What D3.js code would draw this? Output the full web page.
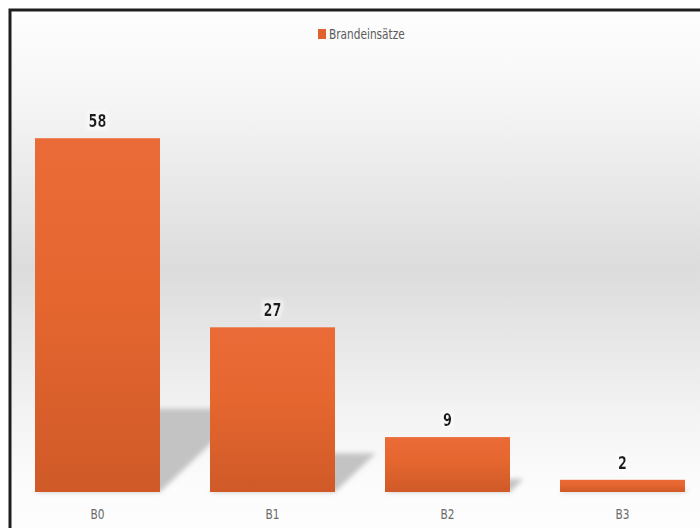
<!DOCTYPE html>
<html>
<head>
<meta charset="utf-8">
<script src="https://cdn.jsdelivr.net/npm/d3@7"></script>
<style>
  html, body { margin: 0; padding: 0; background: #ffffff; }
  svg { display: block; }
</style>
</head>
<body>
<svg id="chart" width="700" height="528"></svg>
<script>
// Fire brigade call-outs by alarm level
const categories = ["B0", "B1", "B2", "B3"];
const values = [58, 27, 9, 2];
const seriesName = "Brandeinsätze";

const W = 700, H = 528;
const baseY = 492;
const labelFont = "'DejaVu Sans Condensed', 'DejaVu Sans', sans-serif";
const squeeze = 0.84; // horizontal compression for a narrow label face

const svg = d3.select("#chart");
const defs = svg.append("defs");

// Backdrop gradient: light at top and bottom, grey through the middle
const bg = defs.append("linearGradient")
  .attr("id", "bgGrad").attr("x1", 0).attr("x2", 0)
  .attr("gradientUnits", "userSpaceOnUse")
  .attr("y1", 10).attr("y2", 528);
[[0, "#fefefe"], [0.18, "#f5f5f5"], [0.5, "#dcdcdc"], [0.78, "#f3f3f3"], [0.92, "#fcfcfc"], [1, "#fdfdfd"]]
  .forEach(([o, c]) => bg.append("stop").attr("offset", o).attr("stop-color", c));

// Bar fill gradient
const barGrad = defs.append("linearGradient")
  .attr("id", "barGrad").attr("x1", 0).attr("y1", 0).attr("x2", 0).attr("y2", 1);
barGrad.append("stop").attr("offset", 0).attr("stop-color", "#ea6b37");
barGrad.append("stop").attr("offset", 0.45).attr("stop-color", "#e5662f");
barGrad.append("stop").attr("offset", 1).attr("stop-color", "#cf5a28");

// Soft shadow blur
defs.append("filter").attr("id", "shadowBlur")
  .attr("x", "-20%").attr("y", "-20%").attr("width", "140%").attr("height", "140%")
  .append("feGaussianBlur").attr("stdDeviation", 2.5);

// Label halo
const halo = defs.append("filter").attr("id", "halo")
  .attr("x", "-30%").attr("y", "-30%").attr("width", "160%").attr("height", "160%");
halo.append("feMorphology").attr("in", "SourceAlpha").attr("operator", "dilate").attr("radius", 3).attr("result", "d");
halo.append("feGaussianBlur").attr("in", "d").attr("stdDeviation", 2).attr("result", "b");
halo.append("feFlood").attr("flood-color", "#ffffff").attr("flood-opacity", 0.5);
halo.append("feComposite").attr("in2", "b").attr("operator", "in").attr("result", "h");
const hm = halo.append("feMerge");
hm.append("feMergeNode").attr("in", "h");
hm.append("feMergeNode").attr("in", "SourceGraphic");

// Chart area with frame
svg.append("rect")
  .attr("x", 10).attr("y", 10).attr("width", 720).attr("height", 540)
  .attr("fill", "url(#bgGrad)")
  .attr("stroke", "#1e1e1e").attr("stroke-width", 3);

// Scales
const x = d3.scaleBand().domain(categories).range([10, 710]).paddingInner(2 / 7).paddingOuter(1 / 7);
const y = d3.scaleLinear().domain([0, 60]).range([baseY, 126]);

const data = categories.map((c, i) => ({ cat: c, val: values[i] }));

// Floor shadows cast to the right of each bar
svg.append("g").attr("filter", "url(#shadowBlur)")
  .selectAll("path").data(data).join("path")
  .attr("fill", "#c3c3c3")
  .attr("d", d => {
    const x0 = x(d.cat), x1 = x0 + x.bandwidth();
    const h = (baseY - y(d.val)) * 0.235;
    const dx = h * 1.05;
    return `M${x0},${baseY}L${x1},${baseY}L${x1 + dx},${baseY - h}L${x0 + dx},${baseY - h}Z`;
  });

// Bars
svg.append("g").selectAll("rect").data(data).join("rect")
  .attr("x", d => x(d.cat))
  .attr("y", d => y(d.val))
  .attr("width", x.bandwidth())
  .attr("height", d => baseY - y(d.val))
  .attr("fill", "url(#barGrad)");

// Value labels
svg.append("g").selectAll("text").data(data).join("text")
  .attr("transform", d => `translate(${x(d.cat) + x.bandwidth() / 2},${y(d.val) - 11}) scale(${squeeze},1)`)
  .attr("text-anchor", "middle")
  .attr("font-family", labelFont)
  .attr("font-size", 17)
  .attr("font-weight", "bold")
  .attr("fill", "#1f1f1f")
  .attr("filter", "url(#halo)")
  .text(d => d.val);

// Category axis labels
const xAxis = d3.axisBottom(x).tickSize(0).tickPadding(0);
const ax = svg.append("g").attr("transform", `translate(0,${baseY + 17})`).call(xAxis);
ax.select(".domain").remove();
ax.selectAll("text")
  .attr("font-family", labelFont)
  .attr("font-size", 14)
  .attr("fill", "#6b6b6b")
  .attr("transform", `scale(${squeeze},1)`);

// Legend
const lg = svg.append("g").attr("transform", "translate(318,29)");
lg.append("rect").attr("width", 8).attr("height", 10).attr("fill", "#e2622e");
lg.append("text")
  .attr("transform", `translate(11,10) scale(${squeeze},1)`)
  .attr("font-family", labelFont)
  .attr("font-size", 14)
  .attr("fill", "#5a5a5a")
  .text(seriesName);
</script>
</body>
</html>
